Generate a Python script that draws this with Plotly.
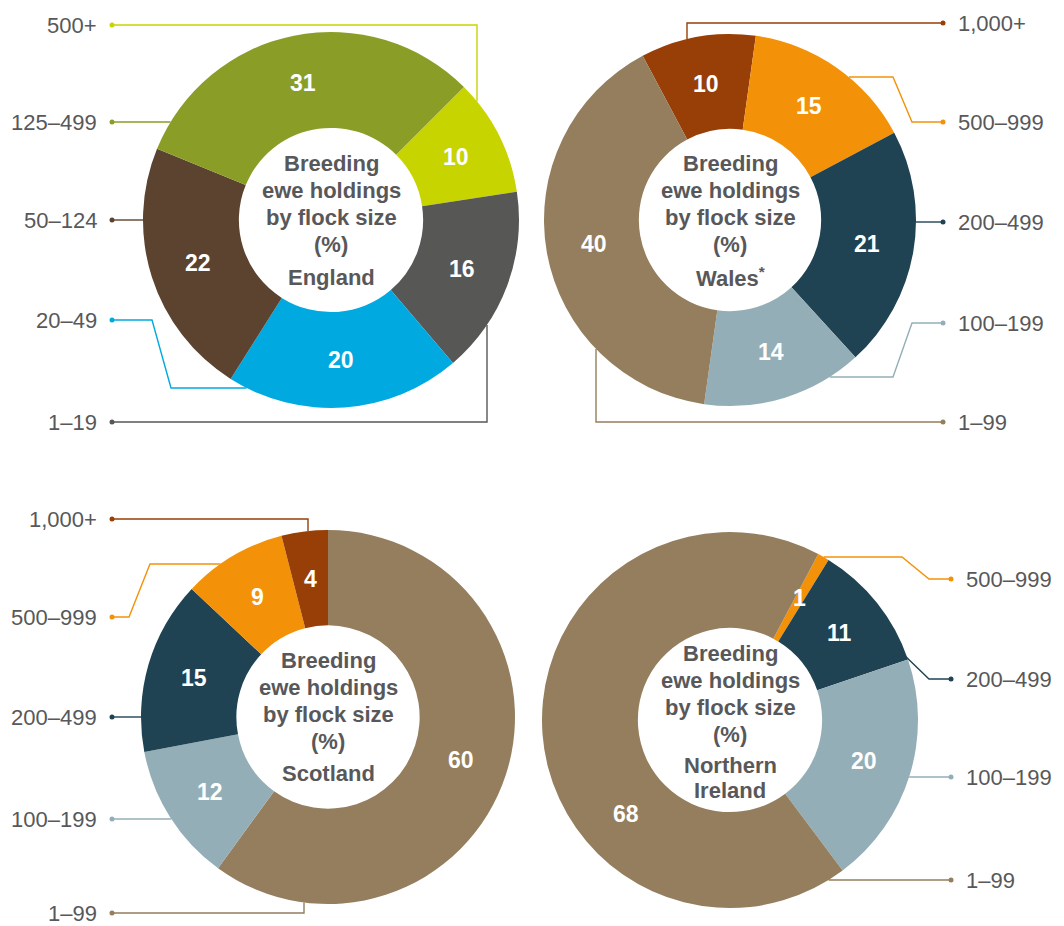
import math
import plotly.graph_objects as go

W, H = 1064, 926

# ---------------- data ----------------
england_bands = ["500+", "1–19", "20–49", "50–124", "125–499"]
england_pct = [10, 16, 20, 22, 31]

wales_bands = ["1,000+", "500–999", "200–499", "100–199", "1–99"]
wales_pct = [10, 15, 21, 14, 40]

scotland_bands = ["1–99", "100–199", "200–499", "500–999", "1,000+"]
scotland_pct = [60, 12, 15, 9, 4]

ni_bands = ["500–999", "200–499", "100–199", "1–99"]
ni_pct = [1, 11, 20, 68]

region_names = [["England"], ["Wales<sup>*</sup>"], ["Scotland"], ["Northern", "Ireland"]]
center_title = ["Breeding", "ewe holdings", "by flock size", "(%)"]

# ---------------- styles ----------------
band_colors = {
    "500+": "#C8D400",
    "1–19": "#575756",
    "20–49": "#00A9E0",
    "50–124": "#5C4330",
    "125–499": "#8A9E27",
    "1,000+": "#983F08",
    "500–999": "#F39208",
    "200–499": "#1F4353",
    "100–199": "#94AEB8",
    "1–99": "#947E5E",
}
TEXT_GREY = "#58585A"
FONT = "Liberation Sans, Arial, Helvetica, sans-serif"
HOLE = 0.49
LINE_STEP = 27.3

# ---------------- layout of each donut (pixels) ----------------
charts = [
    dict(bands=england_bands, pct=england_pct, name=region_names[0],
         cx=331, cy=220, R=188, rot=45, dotx=112, side="left",
         title_dy=-57, name_dy=57, name_step=26, label_angle={},
         leaders={"500+": (25, [(477, 25)], "v"),
                  "125–499": (122, [], "h"),
                  "50–124": (220, [], "h"),
                  "20–49": (320, [(152, 320), (171, 388)], "h"),
                  "1–19": (422, [(487, 422)], "v")}),
    dict(bands=wales_bands, pct=wales_pct, name=region_names[1],
         cx=730, cy=220, R=186, rot=-28, dotx=943, side="right",
         title_dy=-57, name_dy=57, name_step=26, label_angle={},
         leaders={"1,000+": (23, [(687, 23)], "v"),
                  "500–999": (122, [(912, 122), (893, 77)], "h"),
                  "200–499": (222, [], "h"),
                  "100–199": (323, [(912, 323), (893, 377)], "h"),
                  "1–99": (422, [(596, 422)], "v")}),
    dict(bands=scotland_bands, pct=scotland_pct, name=region_names[2],
         cx=328, cy=717, R=187, rot=0, dotx=112, side="left",
         title_dy=-57, name_dy=56, name_step=26, label_angle={},
         leaders={"1,000+": (519, [(308, 519)], "v"),
                  "500–999": (617, [(129, 617), (150, 564)], "h"),
                  "200–499": (717, [], "h"),
                  "100–199": (819, [], "h"),
                  "1–99": (913, [(304, 913)], "v")}),
    dict(bands=ni_bands, pct=ni_pct, name=region_names[3],
         cx=730, cy=720, R=188, rot=28, dotx=951, side="right",
         title_dy=-67, name_dy=45, name_step=25, label_angle={"1–99": 228},
         leaders={"500–999": (579, [(929, 579), (902, 557)], "h"),
                  "200–499": (679, [(929, 679), (902, 653)], None),
                  "100–199": (777, [], "h"),
                  "1–99": (880, [], "h")}),
]


def ring_hit(px, py, mode, cx, cy, R):
    if mode == "h":
        d = math.sqrt(max(R * R - (py - cy) ** 2, 0))
        return (cx - d if px < cx else cx + d, py)
    if mode == "v":
        d = math.sqrt(max(R * R - (px - cx) ** 2, 0))
        return (px, cy - d if py < cy else cy + d)
    return None


fig = go.Figure()
annotations = []

for c in charts:
    cx, cy, R = c["cx"], c["cy"], c["R"]
    fig.add_trace(go.Pie(
        labels=c["bands"], values=c["pct"], sort=False, direction="clockwise",
        rotation=c["rot"], hole=HOLE,
        marker=dict(colors=[band_colors[b] for b in c["bands"]], line=dict(width=0)),
        textinfo="none",
        domain=dict(x=[(cx - R) / W, (cx + R) / W], y=[1 - (cy + R) / H, 1 - (cy - R) / H]),
        showlegend=False, hoverinfo="label+value",
    ))

    # value labels at the middle of each slice (angles from the data)
    total = float(sum(c["pct"]))
    start = c["rot"]
    r_mid = R * (1 + HOLE) / 2
    for band, v in zip(c["bands"], c["pct"]):
        span = 360.0 * v / total
        ang = c["label_angle"].get(band, start + span / 2)
        start += span
        a = math.radians(ang)
        annotations.append(dict(
            x=cx + r_mid * math.sin(a), y=cy - r_mid * math.cos(a), xref="x", yref="y",
            text=str(v), showarrow=False, xanchor="center", yanchor="middle",
            font=dict(family=FONT, size=23, color="white", weight="bold")))

    # leader lines with dots + band labels
    for band in c["bands"]:
        ly, via, mode = c["leaders"][band]
        pts = [(c["dotx"], ly)] + list(via)
        if mode is not None:
            pts.append(ring_hit(pts[-1][0], pts[-1][1], mode, cx, cy, R))
        col = band_colors[band]
        fig.add_trace(go.Scatter(
            x=[p[0] for p in pts], y=[p[1] for p in pts], mode="lines",
            line=dict(color=col, width=1.4), hoverinfo="skip", showlegend=False))
        fig.add_trace(go.Scatter(
            x=[c["dotx"]], y=[ly], mode="markers",
            marker=dict(color=col, size=5), hoverinfo="skip", showlegend=False))
        left = c["side"] == "left"
        annotations.append(dict(
            x=c["dotx"] - 13 if left else c["dotx"] + 13, y=ly, xref="x", yref="y",
            text=band, showarrow=False, xanchor="right" if left else "left", yanchor="middle",
            font=dict(family=FONT, size=22, color=TEXT_GREY)))

    # centre text
    for i, line in enumerate(center_title):
        annotations.append(dict(
            x=cx, y=cy + c["title_dy"] + i * LINE_STEP, xref="x", yref="y", text=line,
            showarrow=False, xanchor="center", yanchor="middle",
            font=dict(family=FONT, size=22, color=TEXT_GREY, weight="bold")))
    for i, line in enumerate(c["name"]):
        annotations.append(dict(
            x=cx, y=cy + c["name_dy"] + i * c["name_step"], xref="x", yref="y", text=line,
            showarrow=False, xanchor="center", yanchor="middle",
            font=dict(family=FONT, size=22, color=TEXT_GREY, weight="bold")))

fig.update_layout(
    width=W, height=H, margin=dict(l=0, r=0, t=0, b=0),
    paper_bgcolor="white", plot_bgcolor="white",
    xaxis=dict(range=[0, W], visible=False, fixedrange=True),
    yaxis=dict(range=[H, 0], visible=False, fixedrange=True),
    annotations=annotations,
)

fig.write_html("out.html", config={"displayModeBar": False},
               post_script="document.body.style.margin='0px';")
